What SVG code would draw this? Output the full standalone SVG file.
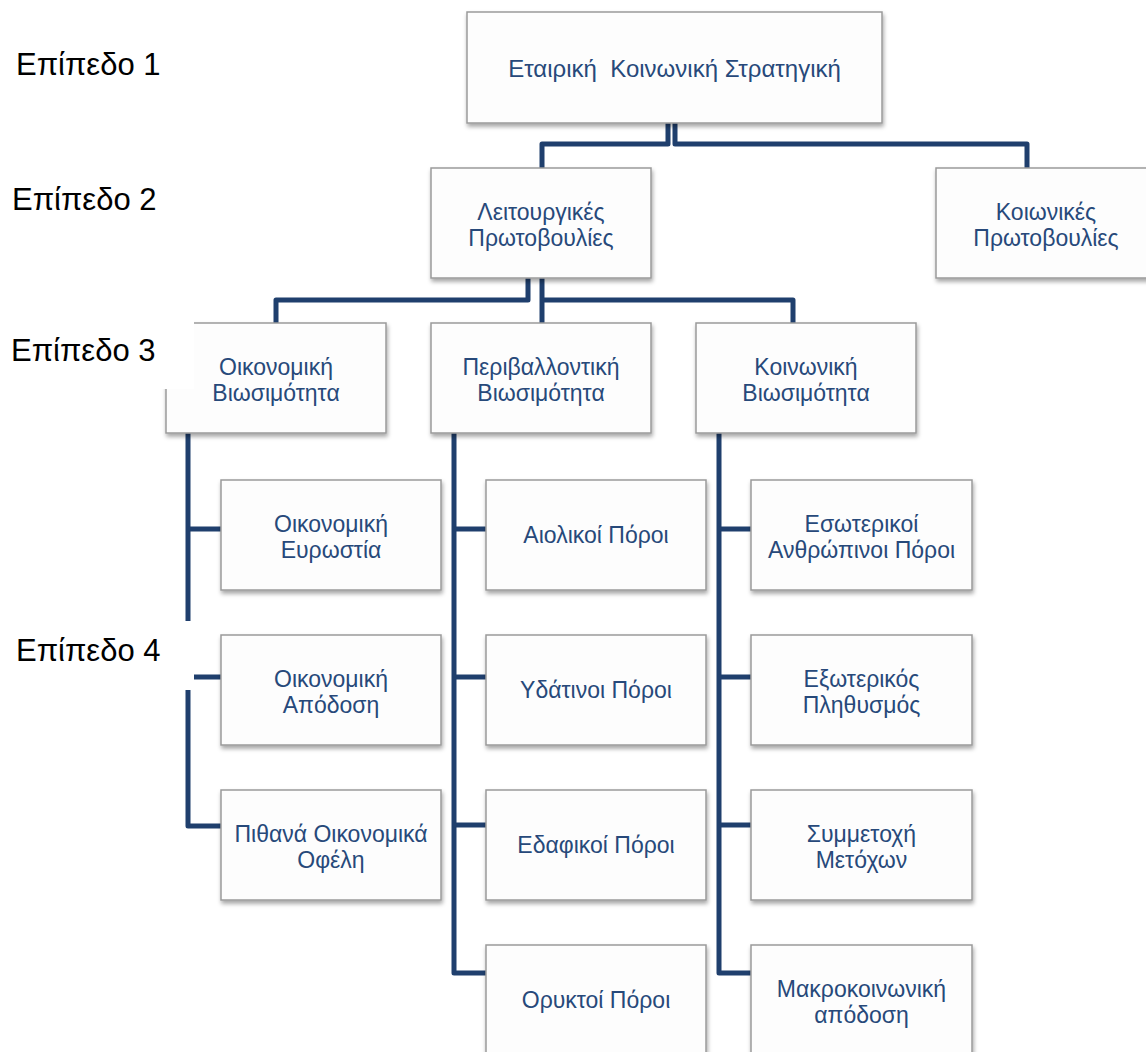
<svg xmlns="http://www.w3.org/2000/svg" width="1146" height="1052" viewBox="0 0 1146 1052">
  <defs>
    <filter id="sh" x="-10%" y="-10%" width="125%" height="130%">
      <feDropShadow dx="1" dy="3" stdDeviation="2" flood-color="#000" flood-opacity="0.35"/>
    </filter>
  </defs>
  <style>
    .box { fill: #fdfdfd; stroke: #9a9a9a; stroke-width: 1.5; filter: url(#sh); }
    .t { font-family: "Liberation Sans", Arial, sans-serif; font-size: 23px; fill: #27497a; text-anchor: middle; }
    .t1 { font-size: 24px; }
    .lbl { font-family: "Liberation Sans", Arial, sans-serif; font-size: 31px; fill: #000; }
    .bg { fill: #ffffff; }
    .c { fill: none; stroke: #1f3f6d; stroke-width: 5; stroke-linejoin: round; }
  </style>
  <rect width="1146" height="1052" fill="#ffffff"/>

  <g id="connectors">
    <path class="c" d="M668,123 V144 H542 V168"/>
    <path class="c" d="M675,123 V144 H1027 V168"/>
    <path class="c" d="M528,278 V300 H276 V323"/>
    <path class="c" d="M542,278 V323"/>
    <path class="c" d="M542,300 H793 V323"/>
    <path class="c" d="M188,433 V826 H221"/>
    <path class="c" d="M188,529 H221"/>
    <path class="c" d="M188,677 H221"/>
    <path class="c" d="M454,433 V973 H486"/>
    <path class="c" d="M454,529 H486"/>
    <path class="c" d="M454,677 H486"/>
    <path class="c" d="M454,825 H486"/>
    <path class="c" d="M719,433 V973 H751"/>
    <path class="c" d="M719,529 H751"/>
    <path class="c" d="M719,677 H751"/>
    <path class="c" d="M719,825 H751"/>
  </g>

  <g id="n-top">
    <rect class="box" x="467" y="12" width="415" height="111"/>
    <text class="t t1" x="674.5" y="77" xml:space="preserve">Εταιρική  Κοινωνική Στρατηγική</text>
  </g>

  <g id="n-leit">
    <rect class="box" x="431" y="168" width="220" height="110"/>
    <text class="t" x="541" y="220">Λειτουργικές<tspan x="541" dy="26">Πρωτοβουλίες</tspan></text>
  </g>
  <g id="n-koin-pr">
    <rect class="box" x="936" y="168" width="220" height="110"/>
    <text class="t" x="1046" y="220">Κοιωνικές<tspan x="1046" dy="26">Πρωτοβουλίες</tspan></text>
  </g>

  <g id="n-oik-bio">
    <rect class="box" x="166" y="323" width="220" height="110"/>
    <text class="t" x="276" y="375">Οικονομική<tspan x="276" dy="26">Βιωσιμότητα</tspan></text>
  </g>
  <g id="n-per-bio">
    <rect class="box" x="431" y="323" width="220" height="110"/>
    <text class="t" x="541" y="375">Περιβαλλοντική<tspan x="541" dy="26">Βιωσιμότητα</tspan></text>
  </g>
  <g id="n-koin-bio">
    <rect class="box" x="696" y="323" width="220" height="110"/>
    <text class="t" x="806" y="375">Κοινωνική<tspan x="806" dy="26">Βιωσιμότητα</tspan></text>
  </g>

  <g id="n-a1">
    <rect class="box" x="221" y="480" width="220" height="110"/>
    <text class="t" x="331" y="532">Οικονομική<tspan x="331" dy="26">Ευρωστία</tspan></text>
  </g>
  <g id="n-a2">
    <rect class="box" x="221" y="635" width="220" height="110"/>
    <text class="t" x="331" y="687">Οικονομική<tspan x="331" dy="26">Απόδοση</tspan></text>
  </g>
  <g id="n-a3">
    <rect class="box" x="221" y="790" width="220" height="110"/>
    <text class="t" x="331" y="842">Πιθανά Οικονομικά<tspan x="331" dy="26">Οφέλη</tspan></text>
  </g>

  <g id="n-b1">
    <rect class="box" x="486" y="480" width="220" height="110"/>
    <text class="t" x="596" y="543">Αιολικοί Πόροι</text>
  </g>
  <g id="n-b2">
    <rect class="box" x="486" y="635" width="220" height="110"/>
    <text class="t" x="596" y="698">Υδάτινοι Πόροι</text>
  </g>
  <g id="n-b3">
    <rect class="box" x="486" y="790" width="220" height="110"/>
    <text class="t" x="596" y="853">Εδαφικοί Πόροι</text>
  </g>
  <g id="n-b4">
    <rect class="box" x="486" y="945" width="220" height="110"/>
    <text class="t" x="596" y="1008">Ορυκτοί Πόροι</text>
  </g>

  <g id="n-c1">
    <rect class="box" x="751" y="480" width="221" height="110"/>
    <text class="t" x="861.5" y="532">Εσωτερικοί<tspan x="861.5" dy="26">Ανθρώπινοι Πόροι</tspan></text>
  </g>
  <g id="n-c2">
    <rect class="box" x="751" y="635" width="221" height="110"/>
    <text class="t" x="861.5" y="687">Εξωτερικός<tspan x="861.5" dy="26">Πληθυσμός</tspan></text>
  </g>
  <g id="n-c3">
    <rect class="box" x="751" y="790" width="221" height="110"/>
    <text class="t" x="861.5" y="842">Συμμετοχή<tspan x="861.5" dy="26">Μετόχων</tspan></text>
  </g>
  <g id="n-c4">
    <rect class="box" x="751" y="945" width="221" height="110"/>
    <text class="t" x="861.5" y="997">Μακροκοινωνική<tspan x="861.5" dy="26">απόδοση</tspan></text>
  </g>

  <g id="label-1">
    <rect class="bg" x="0" y="34" width="194" height="69"/>
    <text class="lbl" x="16" y="75">Επίπεδο 1</text>
  </g>
  <g id="label-2">
    <rect class="bg" x="0" y="169" width="194" height="69"/>
    <text class="lbl" x="12" y="210">Επίπεδο 2</text>
  </g>
  <g id="label-3">
    <rect class="bg" x="0" y="320" width="194" height="69"/>
    <text class="lbl" x="11" y="361">Επίπεδο 3</text>
  </g>
  <g id="label-4">
    <rect class="bg" x="0" y="621" width="194" height="69"/>
    <text class="lbl" x="16" y="661">Επίπεδο 4</text>
  </g>
</svg>
